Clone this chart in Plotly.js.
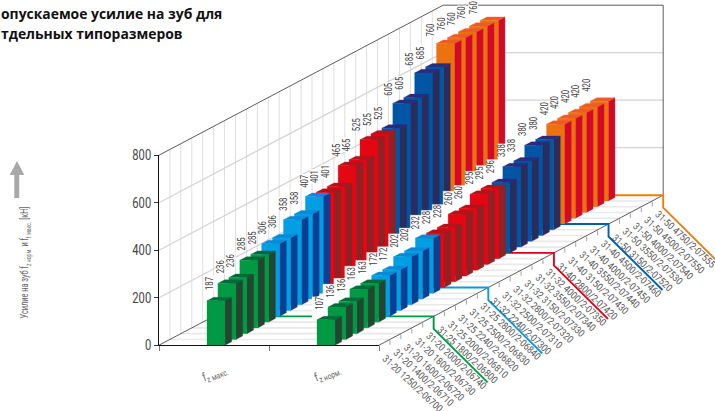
<!DOCTYPE html>
<html><head><meta charset="utf-8">
<script src="https://cdn.plot.ly/plotly-3.0.1.min.js"></script>
<style>html,body{margin:0;padding:0;background:#fff}#c{width:715px;height:411px}</style>
</head><body><div id="c"></div>
<script>
const categories = [
 "31-20 1250/2-06700","31-20 1400/2-06710","31-20 1600/2-06720","31-20 1800/2-06730","31-20 2000/2-06740",
 "31-25 1800/2-06800","31-25 2000/2-06810","31-25 2240/2-06820","31-25 2500/2-06830","31-25 2800/2-06840",
 "31-32 2240/2-07300","31-32 2500/2-07310","31-32 2800/2-07320","31-32 3150/2-07330","31-32 3550/2-07340","31-32 4000/2-07350",
 "31-40 2800/2-07420","31-40 3150/2-07430","31-40 3550/2-07440","31-40 4000/2-07450","31-40 4500/2-07460",
 "31-50 3150/2-07520","31-50 3550/2-07530","31-50 4000/2-07540","31-50 4500/2-07550","31-50 4750/2-07555"];
const fzMax = [187,236,236,285,285, 306,306,358,358,407, 401,401,465,465,525,525, 525,605,605,685,685, 760,760,760,760,760];
const fzNorm = [107,136,136,163,163, 172,172,202,202,232, 228,228,260,260,295,295, 296,338,338,380,380, 420,420,420,420,420];
const groupSizes = [5,5,6,5,5];
const groupFront = ["#009a44","#009fe3","#e30613","#0056a4","#ec7210"];
const groupTop   = ["#006b38","#0a8ad6","#b3141c","#2b2b80","#ee5a28"];
const groupSide  = ["#24452f","#0b3f94","#8e2326","#2c2c5c","#d20a28"];
const bracketColor = ["#009a44","#0a9cdc","#e2001a","#0060b0","#ee7d11"];
const rowNames = ["f<sub>z макс.</sub>","f<sub>z норм.</sub>"];
const zTicks = [0,200,400,600,800];
const titleLines = ["опускаемое усилие на зуб для","тдельных типоразмеров"];
const yTitle = "Усилие на зуб f<sub>z норм.</sub> и f<sub>t макс.</sub> [кН]";

const W=715,H=411, X0=159, Y0=345.2, K=190/800, RW=110, DX=10.93, DY=5.77;
const narrow="'Roboto','Liberation Sans',sans-serif";
const px=(u,d)=>X0+u*RW+d*DX;
const vy=(d,z)=>z+d*DY/K;
const pyToV=p=>(Y0-p)/K;

const traces=[];
function poly(xs,ys,color){traces.push({x:xs,y:ys,mode:'lines',fill:'toself',fillcolor:color,line:{width:0.3,color:color},hoverinfo:'skip',showlegend:false});}
function lines(segs,color,width){const x=[],y=[];segs.forEach(s=>{s.forEach(p=>{x.push(p[0]);y.push(p[1]);});x.push(null);y.push(null);});
 traces.push({x,y,mode:'lines',line:{color,width},hoverinfo:'skip',showlegend:false,connectgaps:false});}
const P=(u,d,z)=>[px(u,d),vy(d,z)];

const dAll=categories.map((_,i)=>i);
lines(dAll.slice(1).map(d=>[P(0,d,0),P(0,d,800)]),"#dfdfdf",1);
lines([200,400,600].map(z=>[P(0,0,z),P(0,26,z),P(2,26,z)]),"#d6d3d3",1.2);
lines(dAll.slice(1).map(d=>[P(0,d,0),P(2,d,0)]),"#e9e9e9",1.6);
lines([[P(0,0,800),P(0,26,800),P(2,26,800),P(2,26,0)],[P(0,0,0),P(0,26,0)]],"#4a4a4a",0.9);
lines([[P(2,0,0),P(2,26,0)]],"#4a4a4a",0.9);
lines(dAll.slice(1).map(d=>{const a=P(2,d,0);return [[a[0],a[1]-1/K],[a[0],a[1]-5.5/K]];}),"#8a8a8a",0.8);
let acc=0;
groupSizes.forEach((n,g)=>{acc+=n;const a=P(0,acc,0),b=P(2,acc,0);
 lines([[a,b,[b[0],b[1]-12.5/K],[b[0]+54,b[1]-(12.5+53.5)/K]]],bracketColor[g],1.9);});

const groupOf=[];groupSizes.forEach((n,g)=>{for(let k=0;k<n;k++)groupOf.push(g);});
const BW=18,BD=6.7,L0=48;
const annotations=[], squeeze=[];
function addText(a,f){annotations.push(a);squeeze.push(f);}
function bars(values,r,drift,gap0,gapDrift,halo){
 if(halo){
  values.forEach((v,i)=>{
   const l=X0+r*RW+L0+i*DX,tv=vy(i,0)+v;
   poly([l-5,l+12,l+12,l-5,l-5],[tv,tv,tv+23/K,tv+23/K,tv],'#ffffff');
  });
 }
 for(let i=values.length-1;i>=0;i--){
  const v=values[i],g=groupOf[i],l=X0+r*RW+L0+i*DX,bv=vy(i,0),tv=bv+v;
  const dv=BD*(DY/DX)/K;
  poly([l+BW,l+BW+BD,l+BW+BD,l+BW,l+BW],[bv,bv+dv,tv+dv,tv,bv],groupSide[g]);
  poly([l,l+BD,l+BW+BD,l+BW,l],[tv,tv+dv,tv+dv,tv,tv],groupTop[g]);
  poly([l,l+BW,l+BW,l,l],[bv,bv,tv,tv,bv],groupFront[g]);
  const a={x:l+3-i*drift,y:tv+(gap0-i*gapDrift)/K,xref:'x',yref:'y',text:String(v),textangle:-90,showarrow:false,xanchor:'center',yanchor:'bottom',
   font:{family:narrow,size:11,color:"#444"},borderpad:0};
  if(!halo)a.bgcolor='#fff';
  addText(a,0.7);
 }
}
bars(fzMax,0,0.42,6.5,0.15,false);
bars(fzNorm,1,0.27,5.7,0,true);

traces.push({x:[0,2],y:[0,800],xaxis:'x2',yaxis:'y2',mode:'lines',line:{width:0,color:'rgba(0,0,0,0)'},hoverinfo:'skip',showlegend:false});

categories.forEach((c,i)=>{
 const a=P(2,i+0.5,0);
 addText({x:a[0]+28,y:a[1]-41.4/K,xref:'x',yref:'y',text:c,textangle:43,showarrow:false,xanchor:'center',yanchor:'middle',
  font:{family:narrow,size:10,color:"#555"},borderpad:0},0.86);
});
const rowLabelX=[215,327.5];
rowNames.forEach((t,i)=>addText({x:rowLabelX[i],y:pyToV(374),xref:'x',yref:'y',text:t,textangle:-22,showarrow:false,
 font:{family:narrow,size:12,color:"#666"},borderpad:0},0.8));
titleLines.forEach((t,i)=>addText({x:0,y:1-(14+i*19)/H,xref:'paper',yref:'paper',text:t,showarrow:false,xanchor:'left',yanchor:'middle',
 font:{family:"'Open Sans','Noto Sans',sans-serif",size:13.9,color:"#111",weight:700},borderpad:0},1));
addText({x:17.5/W,y:1-263/H,xref:'paper',yref:'paper',text:yTitle,textangle:-90,showarrow:false,
 font:{family:narrow,size:10.5,color:"#666"},borderpad:0},0.7);

const ax=x=>x/W, ay=y=>1-y/H;
const arrow=[[14.3,198],[14.3,175],[9.7,175],[17,161],[24.3,175],[19.2,175],[19.2,198]];
const shapes=[{type:'path',xref:'paper',yref:'paper',path:'M'+arrow.map(p=>ax(p[0])+','+ay(p[1])).join('L')+'Z',fillcolor:'#a8a8a8',line:{width:0}}];

const hidden={visible:false,fixedrange:true};
const layout={width:W,height:H,margin:{l:0,r:0,t:0,b:0},paper_bgcolor:'#fff',plot_bgcolor:'rgba(0,0,0,0)',showlegend:false,
 xaxis:{...hidden,range:[0,W],domain:[0,1]},
 yaxis:{...hidden,range:[(Y0-H)/K,Y0/K],domain:[0,1]},
 xaxis2:{domain:[X0/W,(X0+2*RW)/W],range:[0,2],anchor:'y2',tickvals:[0,1,2],ticks:'outside',ticklen:5,tickcolor:'#777',tickwidth:1,showticklabels:false,showline:true,linecolor:'#111',linewidth:1.2,showgrid:false,zeroline:false},
 yaxis2:{domain:[(H-Y0)/H,(H-Y0+190)/H],range:[0,800],anchor:'x2',tickvals:zTicks,ticks:'outside',ticklen:4,tickcolor:'#333',tickwidth:1,showline:true,linecolor:'#111',linewidth:1,showgrid:false,zeroline:false,
  tickfont:{family:narrow,size:14,color:'#444'}},
 annotations,shapes};

function narrowText(t,f){
 const x=parseFloat(t.getAttribute('x'))||0, cur=t.getAttribute('transform')||'';
 t.setAttribute('transform',cur+' translate('+x+',0) scale('+f+',1) translate('+(-x)+',0)');
}
Plotly.newPlot('c',traces,layout,{displayModeBar:false,staticPlot:true}).then(()=>{
 document.querySelectorAll('#c .annotation').forEach(g=>{
  const idx=+g.getAttribute('data-index'), f=squeeze[idx];
  if(f===1)return;
  const t=g.querySelector('text'), r=g.querySelector('rect.bg');
  if(t)narrowText(t,f);
  if(r&&annotations[idx].bgcolor){
   const w=parseFloat(r.getAttribute('width')),x=parseFloat(r.getAttribute('x'))||0;
   const h=parseFloat(r.getAttribute('height')),y=parseFloat(r.getAttribute('y'))||0;
   r.setAttribute('x',x+w*(1-f)/2);r.setAttribute('width',w*f);
   r.setAttribute('y',y+(h-9.5)/2);r.setAttribute('height',9.5);
  }
 });
 document.querySelectorAll('#c .y2tick text').forEach(t=>narrowText(t,0.8));
});
</script></body></html>
